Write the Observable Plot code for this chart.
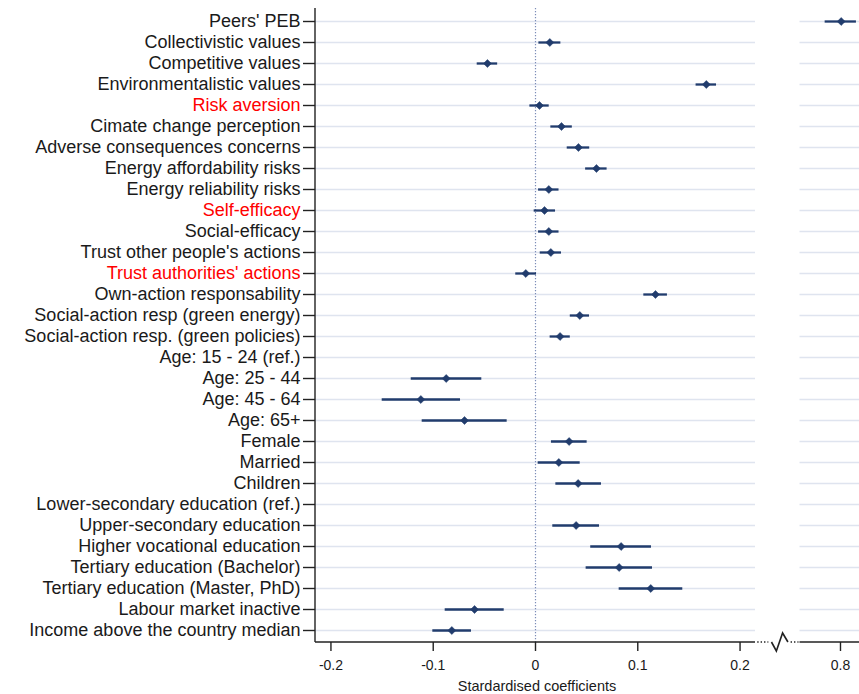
<!DOCTYPE html>
<html>
<head>
<meta charset="utf-8">
<script src="https://cdn.jsdelivr.net/npm/d3@7"></script>
<script src="https://cdn.jsdelivr.net/npm/@observablehq/plot@0.6"></script>
<style>
  body { margin: 0; background: #fff; font-family: "Liberation Sans", Arial, sans-serif; }
  #wrap { position: relative; width: 859px; }
  #chart svg { display: block; }
  #xtitle { position: relative; height: 17px; width: 859px; }
  #xtitle span { position: absolute; left: 537px; top: 1px; transform: translateX(-50%);
    font-size: 14.5px; line-height: 16px; color: #1a1a1a; white-space: nowrap; }
</style>
</head>
<body>
<div id="wrap">
  <div id="chart"></div>
  <div id="xtitle"><span>Stardardised coefficients</span></div>
</div>
<script>
// ---- data ----
const categories = [
  "Peers' PEB",
  "Collectivistic values",
  "Competitive values",
  "Environmentalistic values",
  "Risk aversion",
  "Cimate change perception",
  "Adverse consequences concerns",
  "Energy affordability risks",
  "Energy reliability risks",
  "Self-efficacy",
  "Social-efficacy",
  "Trust other people's actions",
  "Trust authorities' actions",
  "Own-action responsability",
  "Social-action resp (green energy)",
  "Social-action resp. (green policies)",
  "Age: 15 - 24 (ref.)",
  "Age: 25 - 44",
  "Age: 45 - 64",
  "Age: 65+",
  "Female",
  "Married",
  "Children",
  "Lower-secondary education (ref.)",
  "Upper-secondary education",
  "Higher vocational education",
  "Tertiary education (Bachelor)",
  "Tertiary education (Master, PhD)",
  "Labour market inactive",
  "Income above the country median"
];
const estimates = [0.8007, 0.014, -0.047, 0.167, 0.0039, 0.0254, 0.042, 0.0596, 0.013, 0.0088,
  0.013, 0.015, -0.0095, 0.1173, 0.0433, 0.024, null, -0.0873, -0.1121, -0.0694,
  0.0329, 0.0228, 0.0417, null, 0.0397, 0.0837, 0.0818, 0.1127, -0.0596, -0.0818];
const lowerCI = [0.785, 0.0033, -0.057, 0.157, -0.0055, 0.015, 0.031, 0.049, 0.003, -0.0013,
  0.003, 0.0046, -0.0193, 0.1059, 0.034, 0.0143, null, -0.1215, -0.1499, -0.1108,
  0.0156, 0.0026, 0.0199, null, 0.0169, 0.054, 0.0495, 0.0818, -0.0883, -0.1004];
const upperCI = [0.8156, 0.0248, -0.037, 0.177, 0.0134, 0.036, 0.053, 0.070, 0.023, 0.0196,
  0.023, 0.0254, 0.001, 0.129, 0.0528, 0.034, null, -0.0525, -0.0733, -0.0277,
  0.0505, 0.0437, 0.0645, null, 0.0626, 0.1134, 0.1144, 0.144, -0.0306, -0.0626];
const redLabels = ["Risk aversion", "Self-efficacy", "Trust authorities' actions"];
const xTicks = [-0.2, -0.1, 0, 0.1, 0.2, 0.8];
const mainDomain = [-0.2151, 0.2151];   // left (main) panel
const insetDomain = [0.7604, 0.8186];   // right panel after the axis break

// ---- derived tables ----
const rows = categories.map((label, i) => ({label, est: estimates[i], lo: lowerCI[i], hi: upperCI[i]}))
  .filter(d => d.est != null);
const grid = categories.flatMap(label => [
  {label, x1: mainDomain[0], x2: mainDomain[1]},
  {label, x1: insetDomain[0], x2: insetDomain[1]}
]);
const blackLabels = categories.filter(c => !redLabels.includes(c));

// ---- layout ----
const W = 859, H = 677, ML = 315, MT = 8, MB = 35;
const xRange = [ML, 755, 799.5, W];
const navy = "#213c6d";
const ink = "#1a1a1a";

function axisLines(index, scales, values, dims) {
  const x = scales.x;
  const y0 = dims.height - dims.marginBottom;
  const g = d3.create("svg:g").attr("stroke", "#222").attr("fill", "none");
  const xl = x(mainDomain[0]);
  const gL = x(mainDomain[1]);
  const gR = x(insetDomain[0]);
  const xr = x(insetDomain[1]);
  // y axis line
  g.append("line").attr("x1", xl).attr("x2", xl).attr("y1", dims.marginTop).attr("y2", y0).attr("stroke-width", 1.4);
  // x axis line pieces
  g.append("line").attr("x1", xl).attr("x2", gL).attr("y1", y0).attr("y2", y0).attr("stroke-width", 1.4);
  g.append("line").attr("x1", gR).attr("x2", xr).attr("y1", y0).attr("y2", y0).attr("stroke-width", 1.4);
  const gw = gR - gL;
  // dotted parts
  g.append("line").attr("x1", gL + gw * 0.05).attr("x2", gL + gw * 0.3).attr("y1", y0).attr("y2", y0)
    .attr("stroke-width", 1.4).attr("stroke-dasharray", "1.4,2");
  g.append("line").attr("x1", gL + gw * 0.8).attr("x2", gR - 1).attr("y1", y0).attr("y2", y0)
    .attr("stroke-width", 1.4).attr("stroke-dasharray", "1.4,2");
  // zigzag break symbol
  const pts = [[gL + gw * 0.37, y0], [gL + gw * 0.48, y0 + 9], [gL + gw * 0.62, y0 - 9], [gL + gw * 0.74, y0]];
  g.append("path").attr("d", d3.line()(pts)).attr("stroke-width", 1.6).attr("stroke-linejoin", "miter");
  return g.node();
}

const chart = Plot.plot({
  width: W,
  height: H,
  marginLeft: ML,
  marginRight: 0,
  marginTop: MT,
  marginBottom: MB,
  style: {fontFamily: "'Liberation Sans', Arial, sans-serif", background: "white", color: ink},
  x: {type: "linear", domain: [...mainDomain, ...insetDomain], range: xRange, axis: null, label: null},
  y: {type: "point", domain: categories, padding: 0.5, axis: null, label: null},
  marks: [
    Plot.ruleY(grid, {y: "label", x1: "x1", x2: "x2", stroke: "#dfe4ef", strokeWidth: 1.6}),
    Plot.ruleX([0], {stroke: "#7c8db8", strokeWidth: 1.2, strokeDasharray: "1.2,1.8"}),
    Plot.ruleY(rows, {y: "label", x1: "lo", x2: "hi", stroke: navy, strokeWidth: 2.3}),
    Plot.dot(rows, {y: "label", x: "est", symbol: "diamond2", r: 3.6, fill: navy, stroke: navy, strokeWidth: 0.5}),
    axisLines,
    Plot.axisX(xTicks, {anchor: "bottom", tickSize: 9, tickPadding: 9, fontSize: 14, stroke: "#222",
      strokeWidth: 1.4, fill: ink, tickFormat: d => String(d), label: null}),
    Plot.axisY(blackLabels, {anchor: "left", tickSize: 12, tickPadding: 3, fontSize: 18, stroke: "#222",
      strokeWidth: 1.4, fill: ink, label: null}),
    Plot.axisY(redLabels, {anchor: "left", tickSize: 12, tickPadding: 3, fontSize: 18, stroke: "#222",
      strokeWidth: 1.4, fill: "#ff0000", label: null})
  ]
});
document.getElementById("chart").appendChild(chart);
</script>
</body>
</html>
